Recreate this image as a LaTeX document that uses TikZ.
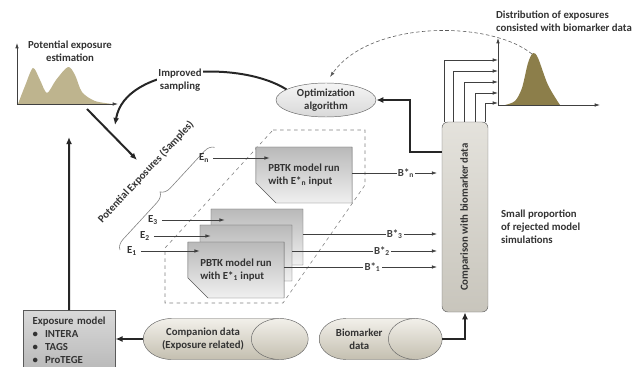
\documentclass[tikz,border=0pt]{standalone}
\usepackage{fontspec}
\setmainfont{Carlito}
\usetikzlibrary{arrows.meta}
\usetikzlibrary{shapes.geometric}
\usetikzlibrary{shapes.misc}
\usetikzlibrary{decorations.pathreplacing}
\definecolor{distkhaki}{RGB}{190,180,142}
\definecolor{distolive}{RGB}{140,126,74}
\definecolor{cylT}{RGB}{242,240,234}
\definecolor{cylB}{RGB}{196,191,176}
\definecolor{cmpT}{RGB}{228,226,220}
\definecolor{cmpB}{RGB}{200,197,188}

\begin{document}
\begin{tikzpicture}[x=0.03cm, y=-0.03cm,
  font=\fontsize{9.2}{11}\selectfont\bfseries, text=black!80,
  thk/.style={-{Latex[length=6pt,width=5pt]}, line width=1.7pt, black!85},
  thn/.style={-{Latex[length=4.5pt,width=3pt]}, line width=0.6pt, black!75},
  pbtk/.style={chamfered rectangle, chamfered rectangle corners=south west,
               chamfered rectangle xsep=0.3cm, chamfered rectangle ysep=0.3cm,
               draw=black!65, top color=gray!55, bottom color=gray!12,
               minimum width=2.76cm, minimum height=1.68cm,
               align=left, inner sep=2pt},
  cyl/.style={cylinder, aspect=1.9, draw=black!60, top color=cylT,
              bottom color=cylB, minimum width=1.23cm, align=center},
  lbl/.style={fill=white, inner sep=1pt}]
  \useasboundingbox (0,0) rectangle (632,367);
  % potential exposure distribution
  \fill[distkhaki] plot[smooth] coordinates {(18,104) (25,86) (33,68) (40,80)
    (47,93) (56,80) (68,67) (75,75) (82,92) (95,101) (113,104)} -- cycle;
  \draw[thn] (17,104) -- (17,43);
  \draw[thn] (17,104) -- (118,104);
  \node[align=center] (pest) at (70,51) {Potential exposure\\estimation};
  % optimization and improved sampling
  \node[ellipse, draw=black!60, top color=gray!8, bottom color=gray!30,
        minimum width=3cm, minimum height=1.02cm, inner sep=0pt,
        align=center] (opt) at (326,100) {Optimization\\algorithm};
  \coordinate (smp) at (115,125);
  \draw[thk] (opt.165) .. controls (240,60) and (125,65) .. (smp);
  \node[align=center, fill=white, inner sep=1pt] (imp) at (180,80)
    {Improved\\sampling};
  \coordinate (pe0) at (87,109);
  \coordinate (pe1) at (137,160);
  \draw[thk] (pe0) -- (pe1);
  \node[rotate=47] (pexp) at (146,172) {Potential Exposures (Samples)};
  \draw[gray, line width=0.5pt, decorate,
        decoration={brace, amplitude=0.3cm}] (120,250) -- (215,147);
  % model runs
  \draw[dashed, gray, line width=0.5pt] (273,130) -- (365,130) -- (365,185)
    -- (283,303) -- (165,303) -- (165,248) -- cycle;
  \node[pbtk] (pbn) at (304,175) {PBTK model run\\with E*\textsubscript{n} input};
  \node[pbtk] (pb3) at (257,237) {};
  \node[pbtk] (pb2) at (246,253) {};
  \node[pbtk] (pb1) at (236,270) {PBTK model run\\with E*\textsubscript{1} input};
  \node (en) at (204,158) {E\textsubscript{n}};
  \node (e3) at (153,220) {E\textsubscript{3}};
  \node (e2) at (145,236) {E\textsubscript{2}};
  \node (e1) at (132,251) {E\textsubscript{1}};
  \draw[thn] (en.east) -- ([xshift=0.42cm]en -| pbn.west);
  \draw[thn] (e3.east) -- ([xshift=0.42cm]e3 -| pb3.west);
  \draw[thn] (e2.east) -- ([xshift=0.33cm]e2 -| pb2.west);
  \draw[thn] (e1.east) -- ([xshift=0.36cm]e1 -| pb1.west);
  % comparison with biomarker data
  \node[rounded corners=5pt, draw=black!60, top color=cmpT, bottom color=cmpB,
        rotate=90, minimum width=5.7cm, minimum height=1.38cm]
    (cmp) at (465,217) {Comparison with biomarker data};
  \draw[thn, shorten >=4pt] ([yshift=0.06cm]pbn.east) -- ([yshift=0.06cm]pbn.east -| cmp.north)
    node[lbl, pos=0.6] {B*\textsubscript{n}};
  \draw[thn, shorten >=4pt] ([yshift=0.09cm]pb3.east) -- ([yshift=0.09cm]pb3.east -| cmp.north)
    node[lbl, pos=0.66] {B*\textsubscript{3}};
  \draw[thn, shorten >=4pt] ([yshift=0.06cm]pb2.east) -- ([yshift=0.06cm]pb2.east -| cmp.north)
    node[lbl, pos=0.6] {B*\textsubscript{2}};
  \draw[thn, shorten >=4pt] ([yshift=0.09cm]pb1.east) -- ([yshift=0.09cm]pb1.east -| cmp.north)
    node[lbl, pos=0.56] {B*\textsubscript{1}};
  \draw[thk] ([yshift=-0.9cm]cmp.north east) -- ++(-32,0) |- (opt.east);
  % accepted distribution
  \coordinate (dax0) at (498,105);
  \coordinate (dpk) at (532,54);
  \fill[distolive] plot[smooth] coordinates {(505,105) (515,101) (522,88)
    (528,63) (533,53) (538,58) (548,85) (560,105)} -- cycle;
  \draw[thn] (dax0) -- (498,38);
  \draw[thn] (dax0) -- (600,105);
  \foreach \dx/\yy in {3/60, 12/71, 23/82, 34/93, 44/103}
    \draw[thn] ([xshift=\dx*0.03cm]cmp.north east) |- (dax0 |- 0,\yy);
  \draw[densely dashed, gray!70!black, line width=0.5pt, shorten >=6pt,
        -{Latex[length=4.5pt,width=3pt]}] (dpk) .. controls (490,20) and (370,20) .. (opt.north);
  \node[anchor=west, align=left] (dtxt) at (492,21)
    {Distribution of exposures\\consisted with biomarker data};
  \node[anchor=west, align=left] (rej) at (497,227)
    {Small proportion\\of rejected model\\simulations};
  % data and exposure model
  \node[draw=black!65, top color=gray!30, bottom color=gray!55, anchor=north west,
        text width=2.2cm, inner xsep=0.28cm, inner ysep=3pt, minimum height=1.8cm,
        align=left] (expm) at (23,310)
    {Exposure model\\\textbullet\ \ INTERA\\\textbullet\ \ TAGS\\\textbullet\ \ ProTEGE};
  \node[cyl, minimum height=4.95cm, anchor=west] (comp) at (143,339)
    {Companion data\\(Exposure related)};
  \node[cyl, minimum height=3.69cm, anchor=west] (bio) at (319,339)
    {Biomarker\\data};
  \coordinate (up0) at (69,137);
  \draw[thk] (expm.north) -- (up0);
  \draw[thk] (comp.west) -- (comp.west -| expm.east);
  \draw[thk] (bio.east) -| (cmp.west);
\end{tikzpicture}
\end{document}
